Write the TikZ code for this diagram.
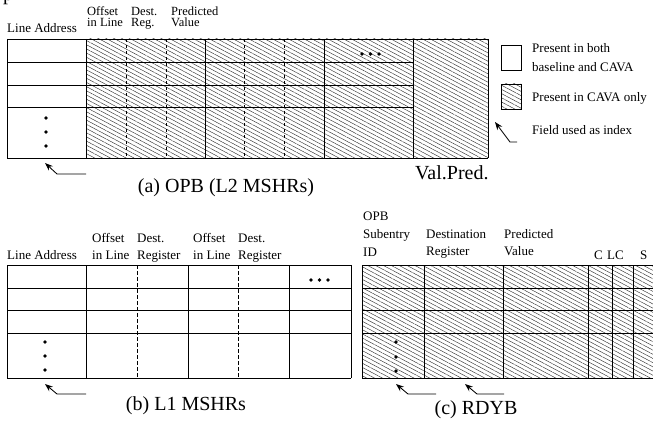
\documentclass[tikz,border=0pt]{standalone}
\usepackage{fontspec}
\setmainfont{Liberation Serif}
\usetikzlibrary{patterns.meta,arrows.meta}

\begin{document}
\begin{tikzpicture}[x=1pt,y=-1pt,
  grid/.style={line width=0.95pt},
  divider/.style={line width=0.8pt, dash pattern=on 3.5pt off 2.5pt},
  hatch/.style={pattern={Lines[angle=-28,distance=3.7pt,line width=0.45pt]},pattern color=black!80},
  lbl/.style={font=\fontsize{13}{15}\selectfont, anchor=base west, inner sep=0pt},
  tight/.style={font=\fontsize{12.5}{13}\selectfont, anchor=base west, inner sep=0pt, text height=8.2pt, text depth=0.3pt},
  captxt/.style={font=\fontsize{20}{24}\selectfont, anchor=base, inner sep=0pt},
  dot/.style={circle, fill=black, inner sep=0pt, minimum size=3.8pt},
  idx/.style={-{Stealth[length=8pt,width=6pt]}, line width=0.85pt},
]
\useasboundingbox (0,0) rectangle (653,422);

% fragment of a line of text above the figure
\node[anchor=base west, inner sep=0pt, font=\fontsize{20}{24}\selectfont] (frag) at (3,0.3) {p};

% ---------------- (a) OPB (L2 MSHRs) ----------------
\path[hatch] (86,39) rectangle (488,158);
\draw[grid] (7,39) -- (488,39) (7,158) -- (488,158);
\foreach \y in {62,85,107} \draw[grid] (7,\y) -- (413,\y);
\foreach \x in {7,86,205,324,413,488} \draw[grid] (\x,39) -- (\x,158);
\foreach \x in {126,166,244,284} \draw[divider] (\x,39) -- (\x,158);

\node[lbl] (a-la) at (7,33) {Line Address};
\node[tight] (a-of1) at (87,16) {Offset};
\node[tight] (a-of2) at (87,27) {in Line};
\node[tight] (a-ds1) at (131,16) {Dest.};
\node[tight] (a-ds2) at (131,27) {Reg.};
\node[tight] (a-pv1) at (171,16) {Predicted};
\node[tight] (a-pv2) at (171,27) {Value};

\foreach \y in {118,132,146} \node[dot] at (46,\y) {};
\foreach \x in {362,370.5,379} \node[dot] at (\x,54) {};

\coordinate (a-t0) at (86,174);
\coordinate (a-t1) at (57,174);
\coordinate (a-tip) at (45,163);
\draw[idx] (a-t0) -- (a-t1) -- (a-tip);

\node[anchor=base west, inner sep=0pt, font=\fontsize{20}{24}\selectfont] (vp) at (415,180) {Val.Pred.};
\node[captxt] (cap-a) at (226,193) {(a) OPB (L2 MSHRs)};

% ---------------- legend ----------------
\draw[grid] (501,45) rectangle (521,70);
\draw[grid,hatch] (501,84) rectangle (521,109);
\node[lbl] (lg1) at (532,53) {Present in both};
\node[lbl] (lg2) at (532,72) {baseline and CAVA};
\node[lbl] (lg3) at (532,102) {Present in CAVA only};
\node[lbl] (lg4) at (532,135) {Field used as index};
\coordinate (lg-t0) at (517,142);
\coordinate (lg-t1) at (510,142);
\coordinate (lg-tip) at (495,122);
\draw[idx] (lg-t0) -- (lg-t1) -- (lg-tip);

% ---------------- (b) L1 MSHRs ----------------
\foreach \y in {265,288,310,333,378} \draw[grid] (7,\y) -- (351,\y);
\foreach \x in {7,86,188,289,351} \draw[grid] (\x,265) -- (\x,378);
\foreach \x in {137,238} \draw[divider] (\x,265) -- (\x,378);

\node[lbl] (b-la) at (7,259) {Line Address};
\node[lbl] (b-of1) at (92,243) {Offset};
\node[lbl] (b-of2) at (92,259) {in Line};
\node[lbl] (b-ds1) at (137,243) {Dest.};
\node[lbl] (b-ds2) at (137,259) {Register};
\node[lbl] (b-of3) at (193,243) {Offset};
\node[lbl] (b-of4) at (193,259) {in Line};
\node[lbl] (b-ds3) at (238,243) {Dest.};
\node[lbl] (b-ds4) at (238,259) {Register};

\foreach \y in {342,356,370} \node[dot] at (45,\y) {};
\foreach \x in {311,319.5,328} \node[dot] at (\x,280) {};

\coordinate (b-t0) at (86,394);
\coordinate (b-t1) at (57,394);
\coordinate (b-tip) at (45,384);
\draw[idx] (b-t0) -- (b-t1) -- (b-tip);

\node[captxt] (cap-b) at (186,410) {(b) L1 MSHRs};

% ---------------- (c) RDYB ----------------
\path[hatch] (362,265) rectangle (700,378);
\foreach \y in {265,288,310,333,378} \draw[grid] (362,\y) -- (700,\y);
\foreach \x in {362,424,503,588,612,633} \draw[grid] (\x,265) -- (\x,378);

\node[lbl] (c-id1) at (363,221) {OPB};
\node[lbl] (c-id2) at (363,238) {Subentry};
\node[lbl] (c-id3) at (363,256) {ID};
\node[lbl] (c-dr1) at (426,238) {Destination};
\node[lbl] (c-dr2) at (426,255) {Register};
\node[lbl] (c-pv1) at (504,238) {Predicted};
\node[lbl] (c-pv2) at (504,255) {Value};
\node[lbl] (c-c) at (594,259) {C};
\node[lbl] (c-lc) at (607,259) {LC};
\node[lbl] (c-s) at (640,259) {S};

\foreach \y in {342,357,371} \node[dot] at (396,\y) {};

\coordinate (c-t0) at (436,394);
\coordinate (c-t1) at (408,394);
\coordinate (c-tip) at (396,384);
\draw[idx] (c-t0) -- (c-t1) -- (c-tip);
\coordinate (c-u0) at (504,394);
\coordinate (c-u1) at (477,394);
\coordinate (c-utip) at (465,384);
\draw[idx] (c-u0) -- (c-u1) -- (c-utip);

\node[captxt] (cap-c) at (476,414) {(c) RDYB};
\end{tikzpicture}
\end{document}
